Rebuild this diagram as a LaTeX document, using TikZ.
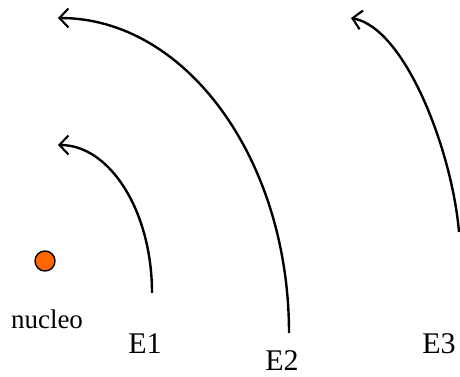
\documentclass[tikz,border=0pt]{standalone}
\usepackage{fontspec}
\setmainfont{Liberation Serif}
\usetikzlibrary{arrows.meta}
\definecolor{nucorange}{RGB}{255,102,0}
\begin{document}
\begin{tikzpicture}[x=1pt,y=-1pt,
  orbit/.style={line width=2.4pt,-{Straight Barb[length=9pt,width=19pt,line width=2.1pt]}},
  elabel/.style={font=\fontsize{30}{33}\selectfont,inner sep=0pt,text depth=0pt,anchor=base},
  nlabel/.style={font=\fontsize{27}{30}\selectfont,inner sep=0pt,text depth=0pt,anchor=base}]
\useasboundingbox (0,0) rectangle (460,377);
\node[circle,draw,line width=1.4pt,fill=nucorange,minimum size=20pt,inner sep=0pt] (nuc) at (45,261) {};
\node[nlabel] (nt) at (47,328) {nucleo};
\node[elabel] (e1) at (145,353) {E1};
\node[elabel] (e2) at (282,370) {E2};
\node[elabel] (e3) at (439,353) {E3};
\coordinate (a1) at (152,293);
\coordinate (a2) at (289,333);
\coordinate (a3) at (459,232);
\coordinate (t3) at (351,18);
\draw[orbit] (a1) arc[start angle=0,end angle=-90,x radius=94,y radius=148];
\draw[orbit] (a2) arc[start angle=0,end angle=-90,x radius=231,y radius=315];
\draw[orbit] (a3) .. controls (452,150) and (405,28) .. (t3);
\end{tikzpicture}
\end{document}
